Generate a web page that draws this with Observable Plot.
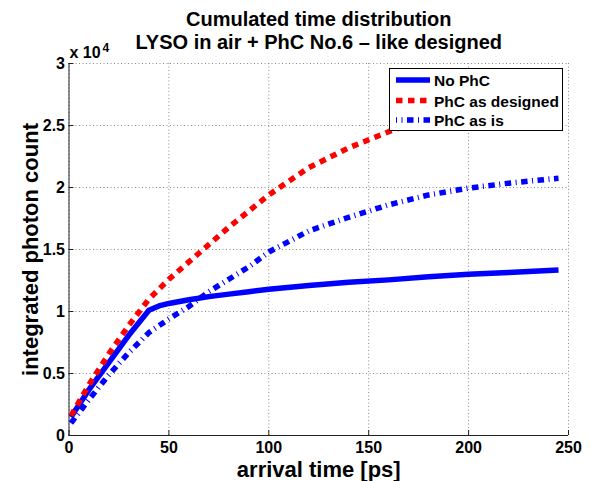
<!DOCTYPE html>
<html><head><meta charset="utf-8">
<script src="https://cdn.jsdelivr.net/npm/d3@7"></script>
<script src="https://cdn.jsdelivr.net/npm/@observablehq/plot@0.6"></script>
<style>body{margin:0;background:#fff;} svg{display:block;}</style>
</head><body><div id="chart"></div>
<script>
// ---- data ----
const time        = [1, 10, 20, 30, 40, 45, 50, 60, 70, 80, 90, 100, 120, 140, 160, 180, 200, 220, 245];
const noPhC       = [1500, 3700, 5900, 8100, 10100, 10450, 10650, 10950, 11200, 11400, 11600, 11800, 12100, 12350, 12550, 12800, 13000, 13150, 13350];
const phcDesigned = [1600, 4100, 6600, 8900, 11000, 11800, 12600, 14000, 15400, 16800, 18100, 19400, 21600, 23200, 24500, 25600, 26500, 27100, 27600];
const phcAsIs     = [1000, 2900, 4900, 6700, 8300, 8850, 9400, 10400, 11600, 12600, 13600, 14800, 16500, 17600, 18600, 19400, 19950, 20350, 20750];
const seriesNames = ["No PhC", "PhC as designed", "PhC as is"];
const xTicks = [0, 50, 100, 150, 200, 250];
const yTicks = [0, 5000, 10000, 15000, 20000, 25000, 30000];
const yTickLabels = ["0", "0.5", "1", "1.5", "2", "2.5", "3"];
const titleLines = ["Cumulated time distribution", "LYSO in air + PhC No.6 \u2013 like designed"];
const xLabel = "arrival time [ps]";
const yLabel = "integrated photon count";
const yMultiplier = "x 10";
const yExponent = "4";

// ---- styles ----
const FONT = "'Liberation Sans', Arial, Helvetica, sans-serif";
const seriesStyles = [
  {stroke: "#0000ff", strokeWidth: 5.5, strokeDasharray: null},
  {stroke: "#ff0000", strokeWidth: 5.5, strokeDasharray: "6.5,5.5"},
  {stroke: "#0000ff", strokeWidth: 5.5, strokeDasharray: "6.5,4.5,1,4.5"}
];
const seriesValues = [noPhC, phcDesigned, phcAsIs];
const rows = vals => time.map((t, i) => ({t, v: vals[i]}));

const W = 593, H = 481, mL = 68.5, mR = 25, mT = 63, mB = 46;
const frameW = W - mL - mR, frameH = H - mT - mB;
const grid = {stroke: "#8a8a8a", strokeDasharray: "1,2.5", strokeWidth: 1};
const txt = {text: d => d, fontWeight: "bold", lineAnchor: "middle", fill: "#000"};

const lineMarks = [0, 1, 2].map(k => Plot.line(rows(seriesValues[k]), {
  x: "t", y: "v",
  stroke: seriesStyles[k].stroke,
  strokeWidth: seriesStyles[k].strokeWidth,
  strokeDasharray: seriesStyles[k].strokeDasharray,
  strokeLinecap: "butt", strokeLinejoin: "round"
}));

const svg = Plot.plot({
  width: W, height: H,
  marginLeft: mL, marginRight: mR, marginTop: mT, marginBottom: mB,
  style: {fontFamily: FONT, background: "#fff", color: "#000"},
  x: {domain: [0, 250]},
  y: {domain: [0, 30000]},
  marks: [
    Plot.ruleX(xTicks, grid),
    Plot.ruleY(yTicks, grid),
    Plot.ruleX(xTicks, {stroke: "#222", insetTop: frameH - 5}),
    Plot.ruleY(yTicks, {stroke: "#222", insetRight: frameW - 5}),
    Plot.ruleX([0], {stroke: "#222"}),
    Plot.ruleY([0], {stroke: "#222"}),
    ...lineMarks,
    Plot.axisX({ticks: xTicks, tickSize: 0, tickPadding: 6, fontSize: 16, fontWeight: "bold", label: null, tickFormat: d => String(d)}),
    Plot.axisY({ticks: yTicks, tickSize: 0, tickPadding: 4, fontSize: 16, fontWeight: "bold", label: null,
      tickFormat: d => yTickLabels[yTicks.indexOf(d)]}),
    Plot.text([titleLines[0]], {...txt, frameAnchor: "top", textAnchor: "middle", dy: -44, fontSize: 20}),
    Plot.text([titleLines[1]], {...txt, frameAnchor: "top", textAnchor: "middle", dy: -20.5, fontSize: 20}),
    Plot.text([xLabel], {...txt, frameAnchor: "bottom", textAnchor: "middle", dy: 34.5, fontSize: 22}),
    Plot.text([yLabel], {...txt, frameAnchor: "left", textAnchor: "middle", dx: -38.5, rotate: -90, fontSize: 22}),
    Plot.text([yMultiplier], {...txt, frameAnchor: "top-left", textAnchor: "start", dx: 0.5, dy: -10.5, fontSize: 16}),
    Plot.text([yExponent], {...txt, frameAnchor: "top-left", textAnchor: "start", dx: 33.5, dy: -15, fontSize: 12})
  ]
});

// ---- legend (opaque box, top right) ----
const lg = d3.select(svg).append("g").attr("font-family", FONT).attr("text-anchor", "start");
lg.append("rect").attr("x", 389.5).attr("y", 68.5).attr("width", 173).attr("height", 62)
  .attr("fill", "#fff").attr("stroke", "#000").attr("stroke-width", 1);
const rowY = [80, 100.5, 120];
seriesNames.forEach((name, k) => {
  const s = seriesStyles[k];
  lg.append("line").attr("x1", 396).attr("x2", 430).attr("y1", rowY[k]).attr("y2", rowY[k])
    .attr("stroke", s.stroke).attr("stroke-width", s.strokeWidth)
    .attr("stroke-dasharray", s.strokeDasharray)
    .attr("stroke-dashoffset", k === 2 ? -11 : 0);
  lg.append("text").attr("x", 434).attr("y", rowY[k] + 6.2).attr("text-anchor", "start")
    .attr("font-size", 15.5).attr("font-weight", "bold").attr("fill", "#000").text(name);
});

document.getElementById("chart").appendChild(svg);
</script>
</body></html>
